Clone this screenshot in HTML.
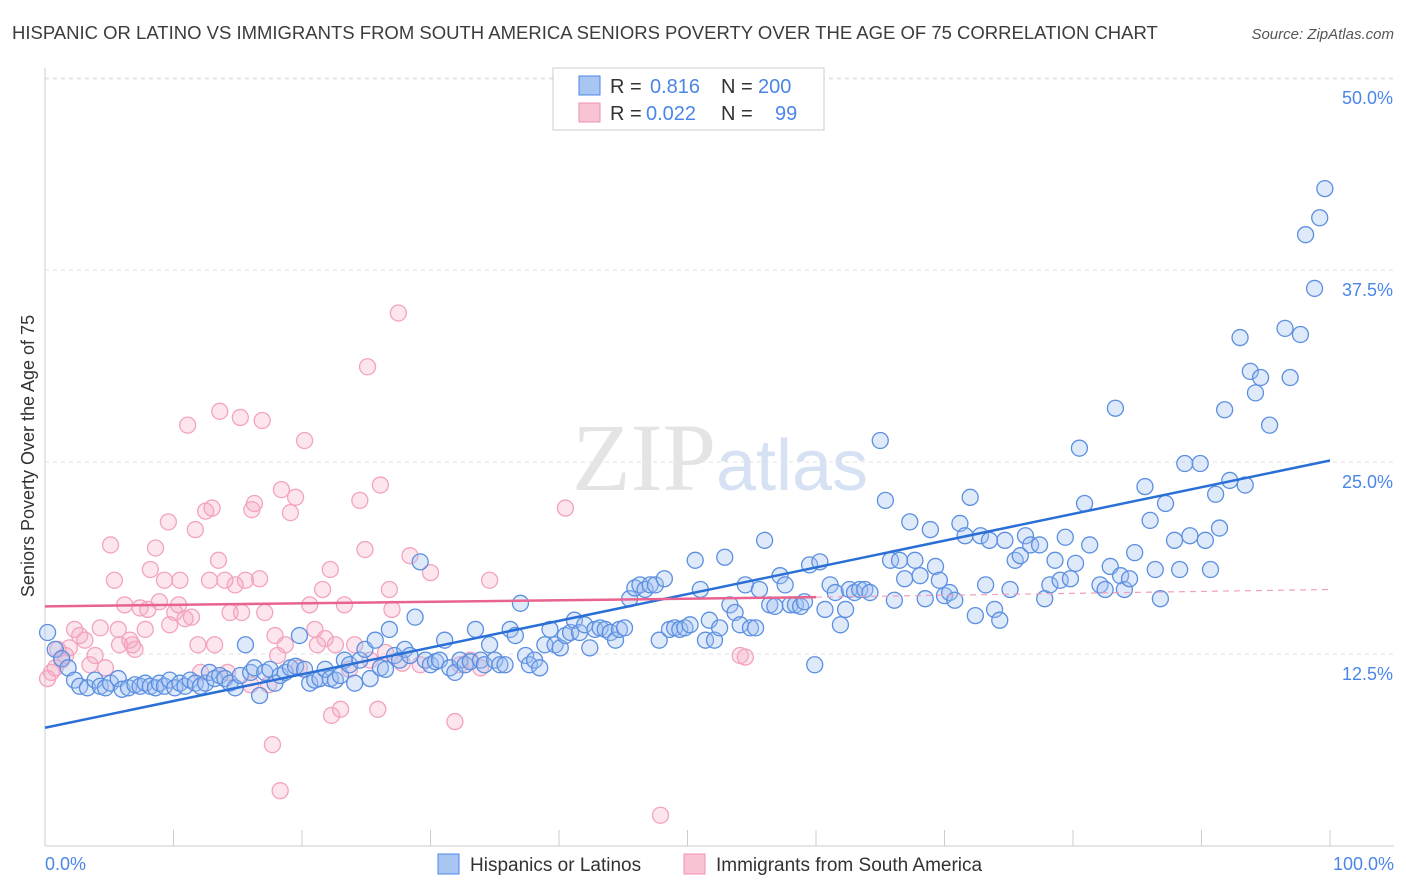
<!DOCTYPE html>
<html><head><meta charset="utf-8">
<style>
body{margin:0;background:#fff;font-family:"Liberation Sans",sans-serif;}
svg{display:block}
</style></head>
<body>
<svg id="chart" width="1406" height="892" xmlns="http://www.w3.org/2000/svg" font-family="Liberation Sans, sans-serif">
<text x="12" y="39" font-size="18.5" fill="#3c3c3c">HISPANIC OR LATINO VS IMMIGRANTS FROM SOUTH AMERICA SENIORS POVERTY OVER THE AGE OF 75 CORRELATION CHART</text>
<text x="1394" y="39" font-size="15" fill="#555" text-anchor="end" font-style="italic">Source: ZipAtlas.com</text>
<g id="grid"></g>
<text x="720" y="490" font-size="96" text-anchor="middle" fill="#e4e4e4" font-family="Liberation Serif, serif">ZIP<tspan fill="#d6e2f3" font-family="Liberation Sans, sans-serif" font-size="72">atlas</tspan></text>
<g id="pink"></g>
<g id="blue"></g>
<g id="lines"></g>
<text transform="translate(34,456) rotate(-90)" font-size="18" fill="#333" text-anchor="middle">Seniors Poverty Over the Age of 75</text>
<text x="45" y="870" font-size="18" fill="#4a86e8">0.0%</text>
<text x="1394" y="870" font-size="18" fill="#4a86e8" text-anchor="end">100.0%</text>
<g font-size="20">
<rect x="553" y="68" width="271" height="62" fill="#fff" stroke="#ccc"/>
<rect x="579" y="76" width="21" height="19" fill="#a9c6f3" stroke="#4a86e8"/>
<rect x="579" y="103" width="21" height="19" fill="#f8c3d3" stroke="#f090b0"/>
<text x="610" y="93" fill="#333">R =</text>
<text x="650" y="93" fill="#4a86e8">0.816</text>
<text x="721" y="93" fill="#333">N =</text>
<text x="758" y="93" fill="#4a86e8">200</text>
<text x="610" y="120" fill="#333">R =</text>
<text x="646" y="120" fill="#4a86e8">0.022</text>
<text x="721" y="120" fill="#333">N =</text>
<text x="775" y="120" fill="#4a86e8">99</text>
</g>
<g>
<rect x="438" y="854" width="21" height="20" fill="#a9c6f3" stroke="#4a86e8"/>
<text x="470" y="871" font-size="19" fill="#333">Hispanics or Latinos</text>
<rect x="684" y="854" width="21" height="20" fill="#f8c3d3" stroke="#f090b0"/>
<text x="716" y="871" font-size="19" fill="#333">Immigrants from South America</text>
</g>
</svg>
<script>
const yTicks=[12.5,25,37.5,50];
const yTickLabels=["12.5%","25.0%","37.5%","50.0%"];
const xTicks=[0,10,20,30,40,50,60,70,80,90,100];
const blueX=[0.2,0.8,1.3,1.8,2.3,2.7,3.3,3.9,4.3,4.7,5.1,5.7,6.0,6.5,7.0,7.4,7.8,8.2,8.6,8.9,9.3,9.7,10.1,10.5,10.9,11.3,11.7,12.1,12.5,12.8,13.2,13.6,14.0,14.4,14.8,15.2,15.6,16.0,16.3,16.7,17.1,17.5,17.9,18.3,18.7,19.1,19.5,19.8,20.2,20.6,21.0,21.4,21.8,22.2,22.6,23.0,23.3,23.7,24.1,24.5,24.9,25.3,25.7,26.1,26.5,26.8,27.2,27.6,28.0,28.4,28.8,29.2,29.6,30.0,30.4,30.7,31.1,31.5,31.9,32.3,32.7,33.1,33.5,33.9,34.2,34.6,35.0,35.4,35.8,36.2,36.6,37.0,37.4,37.7,38.1,38.5,38.9,39.3,39.7,40.1,40.5,40.9,41.2,41.6,42.0,42.4,42.8,43.2,43.6,44.0,44.4,44.7,45.1,45.5,45.9,46.3,46.7,47.1,47.5,47.8,48.2,48.6,49.0,49.4,49.8,50.2,50.6,51.0,51.4,51.7,52.1,52.5,52.9,53.3,53.7,54.1,54.5,54.9,55.3,55.6,56.0,56.4,56.8,57.2,57.6,58.0,58.4,58.8,59.1,59.5,59.9,60.3,60.7,61.1,61.5,61.9,62.3,62.6,63.0,63.4,63.8,64.2,65.0,65.4,65.8,66.1,66.5,66.9,67.3,67.7,68.1,68.5,68.9,69.3,69.6,70.0,70.4,70.8,71.2,71.6,72.0,72.4,72.8,73.2,73.5,73.9,74.3,74.7,75.1,75.5,75.9,76.3,76.7,77.4,77.8,78.2,78.6,79.0,79.4,79.8,80.2,80.5,80.9,81.3,82.1,82.5,82.9,83.3,83.7,84.0,84.4,84.8,85.6,86.0,86.4,86.8,87.2,87.9,88.3,88.7,89.1,89.9,90.3,90.7,91.1,91.4,91.8,92.2,93.0,93.4,93.8,94.2,94.6,95.3,96.5,96.9,97.7,98.1,98.8,99.2,99.6];
const blueY=[13.9,12.8,12.2,11.6,10.8,10.4,10.3,10.8,10.4,10.3,10.6,10.9,10.2,10.3,10.5,10.4,10.6,10.4,10.3,10.6,10.4,10.8,10.3,10.6,10.4,10.8,10.6,10.4,10.6,11.3,10.9,11.1,10.9,10.6,10.3,11.1,13.1,11.3,11.6,9.8,11.3,11.5,10.6,11.1,11.3,11.6,11.7,13.7,11.5,10.6,10.8,10.9,11.5,10.9,10.8,11.1,12.1,11.8,10.6,12.1,12.8,10.9,13.4,11.6,11.5,14.1,12.4,12.1,12.8,12.4,14.9,18.5,12.1,11.8,12.0,12.1,13.4,11.6,11.3,12.1,11.8,12.0,14.1,12.1,11.8,13.1,12.1,11.8,11.8,14.1,13.7,15.8,12.4,11.8,12.1,11.6,13.1,14.1,13.1,12.9,13.7,13.9,14.7,13.9,14.4,12.9,14.1,14.2,14.1,13.9,13.4,14.1,14.2,16.1,16.8,17.0,16.7,17.0,17.0,13.4,17.4,14.1,14.2,14.1,14.2,14.4,18.6,16.7,13.4,14.7,13.4,14.2,18.8,15.7,15.2,14.4,17.0,14.2,14.2,16.7,19.9,15.7,15.6,17.6,17.0,15.7,15.7,15.6,15.9,18.3,11.8,18.5,15.4,17.0,16.5,14.4,15.4,16.7,16.5,16.7,16.7,16.5,26.4,22.5,18.6,16.0,18.6,17.4,21.1,18.6,17.6,16.1,20.6,18.2,17.3,16.3,16.5,16.0,21.0,20.2,22.7,15.0,20.2,17.0,19.9,15.4,14.7,19.9,16.7,18.6,18.9,20.2,19.6,19.6,16.1,17.0,18.6,17.3,20.1,17.4,18.4,25.9,22.3,19.6,17.0,16.7,18.2,28.5,17.6,16.7,17.4,19.1,23.4,21.2,18.0,16.1,22.3,19.9,18.0,24.9,20.2,24.9,19.9,18.0,22.9,20.7,28.4,23.8,33.1,23.5,30.9,29.5,30.5,27.4,33.7,30.5,33.3,39.8,36.3,40.9,42.8];
const pinkX=[0.2,0.5,0.8,1.0,1.3,1.6,1.9,2.3,2.7,3.1,3.5,3.9,4.3,4.7,5.1,5.4,5.7,5.8,6.2,6.6,6.8,7.0,7.4,7.8,8.0,8.2,8.6,8.9,9.3,9.6,9.7,10.1,10.4,10.5,10.9,11.1,11.4,11.7,11.9,12.1,12.5,12.8,13.0,13.2,13.5,13.6,14.0,14.2,14.4,14.8,15.2,15.3,15.6,16.0,16.1,16.3,16.7,16.9,17.1,17.4,17.7,17.9,18.1,18.3,18.4,18.7,19.1,19.5,19.8,20.2,20.6,21.0,21.2,21.6,21.8,22.2,22.3,22.6,23.0,23.3,23.7,24.1,24.5,24.9,25.1,25.3,25.9,26.1,26.5,26.8,27.0,27.5,27.8,28.4,29.2,30.0,31.9,32.3,33.1,33.9,34.6,40.5,47.9,54.1,54.5];
const pinkY=[10.9,11.3,11.6,12.8,12.1,12.4,12.9,14.1,13.7,13.4,11.8,12.4,14.2,11.6,19.6,17.3,14.1,13.1,15.7,13.4,13.1,12.8,15.5,14.1,15.4,18.0,19.4,15.9,17.3,21.1,14.4,15.2,15.7,17.3,14.8,27.4,14.9,20.6,13.1,11.3,21.8,17.3,22.0,13.1,18.6,28.3,17.3,11.3,15.2,17.0,27.9,15.2,17.3,10.5,21.9,22.3,17.4,27.7,15.2,10.5,6.6,13.7,12.4,3.6,23.2,13.1,21.7,22.7,11.6,26.4,15.7,14.1,13.1,16.7,13.5,18.0,8.5,13.1,8.9,15.7,11.5,13.1,22.5,19.3,31.2,12.1,8.9,23.5,12.6,16.7,15.4,34.7,11.9,18.9,11.8,17.8,8.1,11.8,12.1,11.6,17.3,22.0,2.0,12.4,12.3];
const blueTrend=[7.7,25.1];
const pinkTrend=[15.6,16.2,16.7];
const NS='http://www.w3.org/2000/svg';
const X0=45,X1=1330,YB=846,PPU=15.36;
function sx(v){return X0+(X1-X0)*v/100;}
function sy(v){return YB-v*PPU;}
function mk(tag,attrs,parent){const e=document.createElementNS(NS,tag);for(const k in attrs)e.setAttribute(k,attrs[k]);parent.appendChild(e);return e;}
const grid=document.getElementById('grid');
const topLine=mk('line',{x1:45,x2:1394,y1:79,y2:79,stroke:'#e6e6e6','stroke-dasharray':'4,4'},grid);


yTicks.forEach((t,i)=>{
 const l=mk('line',{x1:45,x2:1394,y1:sy(t),y2:sy(t),stroke:'#e2e2e2','stroke-dasharray':'4,4'},grid);
 
 
 const tx=mk('text',{x:1393,y:sy(t)+26,'font-size':18,fill:'#4a86e8','text-anchor':'end'},grid);
 tx.textContent=yTickLabels[i];
 
 
});
const yAxisLine=mk('line',{x1:45,x2:45,y1:68,y2:YB,stroke:'#ccc'},grid);


const xAxisLine=mk('line',{x1:45,x2:1394,y1:YB,y2:YB,stroke:'#ccc'},grid);


xTicks.forEach(t=>{
 const l=mk('line',{x1:sx(t),x2:sx(t),y1:YB-16,y2:YB,stroke:'#ccc'},grid);
 
 
});
const pg=document.getElementById('pink');
pinkX.forEach((x,i)=>{
 const c=mk('circle',{cx:sx(x),cy:sy(pinkY[i]),r:8,fill:'rgba(246,170,195,0.3)',stroke:'#f3a3bd','stroke-width':1.3},pg);
 
 
});
const bg=document.getElementById('blue');
blueX.forEach((x,i)=>{
 const c=mk('circle',{cx:sx(x),cy:sy(blueY[i]),r:8,fill:'rgba(160,192,240,0.35)',stroke:'#5b8fe0','stroke-width':1.3},bg);
 
 
});
const lg=document.getElementById('lines');
const bl=mk('line',{x1:sx(0),y1:sy(blueTrend[0]),x2:sx(100),y2:sy(blueTrend[1]),stroke:'#2a6fd6','stroke-width':2.5},lg);


const pl=mk('line',{x1:sx(0),y1:sy(pinkTrend[0]),x2:sx(60),y2:sy(pinkTrend[1]),stroke:'#e8638f','stroke-width':2.5},lg);


const pd=mk('line',{x1:sx(60),y1:sy(pinkTrend[1]),x2:sx(100),y2:sy(pinkTrend[2]),stroke:'#f0a0ba','stroke-width':1.2,'stroke-dasharray':'6,5'},lg);


</script>
</body></html>
